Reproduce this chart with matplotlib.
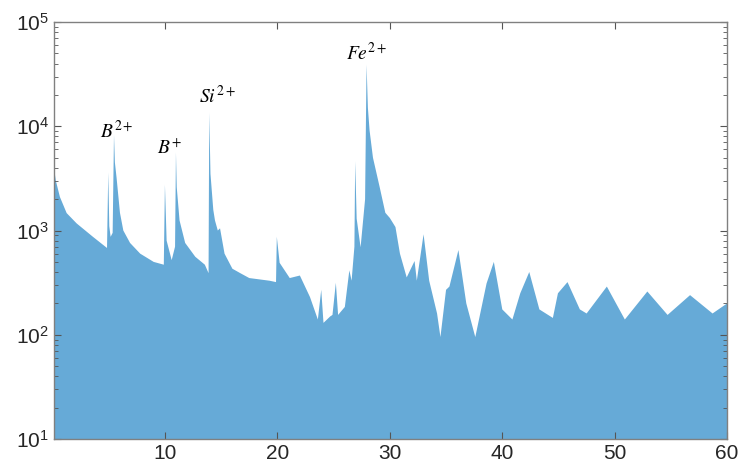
import numpy as np
import matplotlib.pyplot as plt
from matplotlib.ticker import LogLocator, NullFormatter, FixedLocator

mz = [0.13, 0.3, 0.66, 1.26, 2.15, 3.6, 4.85, 4.96, 5.05, 5.17, 5.35, 5.47,
      5.55, 5.7, 6.0, 6.3, 6.9, 7.8, 9.0, 9.9, 10.0, 10.15, 10.6, 10.9, 10.98,
      11.05, 11.3, 11.8, 12.7, 13.55, 13.88, 13.94, 14.05, 14.3, 14.45, 14.7,
      14.9, 15.3, 16.0, 16.7, 17.5, 19.3, 19.88, 19.95, 20.2, 21.1, 22.0, 22.9,
      23.6, 23.9, 24.1, 24.7, 24.9, 25.2, 25.4, 26.0, 26.4, 26.6, 26.85, 26.92,
      27.05, 27.4, 27.8, 27.93, 28.05, 28.2, 28.5, 29.1, 29.6, 30.0, 30.5,
      30.9, 31.5, 32.2, 32.4, 33.0, 33.5, 34.2, 34.5, 35.0, 35.3, 36.1, 36.8,
      37.6, 38.6, 39.25, 40.0, 40.9, 41.6, 42.4, 43.3, 44.5, 44.95, 45.8, 46.9,
      47.5, 49.3, 50.9, 52.9, 54.7, 56.7, 58.7, 60.0]
counts = [4000, 3000, 2100, 1470, 1170, 870, 680, 3600, 1100, 870, 950, 8300,
          4500, 3200, 1480, 1000, 760, 600, 500, 470, 2750, 800, 520, 700, 5600,
          2600, 1250, 760, 560, 470, 390, 13500, 3500, 1580, 1250, 1000, 1050,
          600, 430, 390, 350, 330, 320, 870, 490, 350, 370, 230, 140, 270, 130,
          150, 155, 315, 155, 185, 415, 330, 700, 4600, 1300, 690, 2000, 39000,
          15000, 9100, 5000, 2600, 1480, 1320, 1080, 600, 355, 510, 330, 920,
          330, 160, 95, 270, 290, 650, 200, 95, 310, 500, 175, 140, 250, 400,
          175, 145, 250, 320, 175, 160, 290, 140, 260, 155, 240, 160, 200]

labels = ['$B^{2+}$', '$B^{+}$', '$Si^{2+}$', '$Fe^{2+}$']
label_x = [5.7, 10.4, 14.7, 27.9]
label_y = [9100, 6200, 19500, 51000]

xticks = [10, 20, 30, 40, 50, 60]

plt.rcParams['font.family'] = ['Liberation Sans', 'DejaVu Sans']
plt.rcParams['mathtext.fontset'] = 'stix'

fig = plt.figure(figsize=(7.39, 4.70), dpi=100)
ax = fig.add_axes([0.073, 0.066, 0.911, 0.887])

fill_col = (0.4, 0.667, 0.843)
ax.fill_between(mz, counts, 1, color=fill_col, linewidth=0)

for t, lx, ly in zip(labels, label_x, label_y):
    ax.text(lx, ly, t, ha='center', va='center', fontsize=14,
            color='black', fontstyle='italic')

ax.set_yscale('log')
ax.set_xlim(0.13, 60)
ax.set_ylim(10, 1e5)
ax.xaxis.set_major_locator(FixedLocator(xticks))
ax.yaxis.set_major_locator(LogLocator(base=10, numticks=10))
ax.yaxis.set_minor_locator(LogLocator(base=10, subs=np.arange(2, 10), numticks=10))
ax.yaxis.set_minor_formatter(NullFormatter())

grey = '#808080'
for s in ax.spines.values():
    s.set_color(grey)
    s.set_linewidth(1.0)
ax.tick_params(which='both', direction='in', top=True, right=True,
               color='#555555', labelcolor='#262626', labelsize=15)
ax.tick_params(which='major', length=5)
ax.tick_params(which='minor', length=3)

fig.savefig('out.png', dpi=100)
